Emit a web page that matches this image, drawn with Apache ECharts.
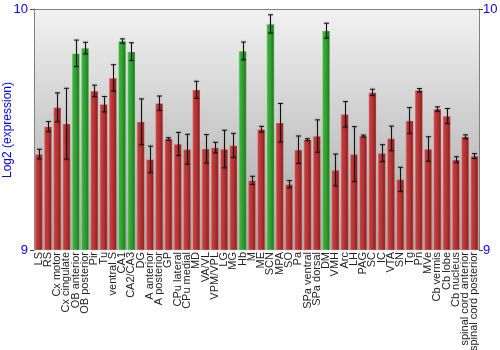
<!DOCTYPE html>
<html>
<head>
<meta charset="utf-8">
<script src="https://cdn.jsdelivr.net/npm/echarts@6/dist/echarts.min.js"></script>
<style>
  html, body { margin: 0; padding: 0; background: #fff; }
  #chart { width: 500px; height: 350px; }
</style>
</head>
<body>
<div id="chart"></div>
<script>
// Brain regions along the x axis
const regions = [
  'LS', 'RS', 'Cx motor', 'Cx cingulate', 'OB anterior', 'OB posterior', 'Pir', 'Tu',
  'ventral S', 'CA1', 'CA2/CA3', 'DG', 'A anterior', 'A posterior', 'GP', 'CPu lateral',
  'CPu medial', 'MD', 'VA/VL', 'VPM/VPL', 'LG', 'MG', 'Hb', 'M',
  'ME', 'SCN', 'MPA', 'SO', 'Pa', 'SPa ventral', 'SPa dorsal', 'DM',
  'VMH', 'Arc', 'LH', 'PAG', 'SC', 'IC', 'VTA', 'SN',
  'Tg', 'Pn', 'MVe', 'Cb vermis', 'Cb lobe', 'Cb nucleus', 'spinal cord anterior', 'spinal cord posterior'
];

// Mean log2 expression per region
const expression = [
  9.398, 9.512, 9.592, 9.524, 9.816, 9.838, 9.660, 9.605,
  9.714, 9.867, 9.823, 9.532, 9.376, 9.609, 9.461, 9.440,
  9.418, 9.665, 9.420, 9.425, 9.419, 9.434, 9.826, 9.289,
  9.501, 9.938, 9.528, 9.273, 9.416, 9.458, 9.473, 9.910,
  9.332, 9.563, 9.398, 9.473, 9.654, 9.402, 9.463, 9.293,
  9.537, 9.663, 9.419, 9.585, 9.556, 9.375, 9.470, 9.390
];

// Half-length of the error bar for each region
const errorSize = [
  0.020, 0.021, 0.060, 0.147, 0.055, 0.024, 0.024, 0.032,
  0.055, 0.009, 0.037, 0.095, 0.055, 0.030, 0.005, 0.048,
  0.062, 0.035, 0.059, 0.022, 0.078, 0.050, 0.037, 0.017,
  0.012, 0.038, 0.080, 0.015, 0.057, 0.004, 0.067, 0.031,
  0.066, 0.053, 0.114, 0.004, 0.013, 0.035, 0.051, 0.050,
  0.054, 0.007, 0.051, 0.009, 0.031, 0.012, 0.008, 0.010
];

// Regions drawn in green
const enriched = ['OB anterior', 'OB posterior', 'CA1', 'CA2/CA3', 'Hb', 'SCN', 'DM'];

// Value axis tick labels
const yTicks = [9, 10];
const yTitle = 'Log2 (expression)';

const G = echarts.graphic.LinearGradient;
const redFill = new G(0, 0, 1, 0, [
  { offset: 0, color: '#d87070' },
  { offset: 0.18, color: '#c44040' },
  { offset: 0.55, color: '#b03232' },
  { offset: 1, color: '#861c1c' }
]);
const greenFill = new G(0, 0, 1, 0, [
  { offset: 0, color: '#70cc70' },
  { offset: 0.18, color: '#3fb03f' },
  { offset: 0.55, color: '#2f9a2f' },
  { offset: 1, color: '#1c761c' }
]);

const barData = expression.map((v, i) => ({
  value: v,
  itemStyle: {
    color: enriched.includes(regions[i]) ? greenFill : redFill,
    borderColor: enriched.includes(regions[i]) ? 'rgba(190,235,190,0.6)' : 'rgba(235,180,180,0.6)',
    borderWidth: 0.6
  }
}));

const errData = expression.map((v, i) => [i, v - errorSize[i], v + errorSize[i]]);

const axisLabelStyle = { color: '#0000ff', fontSize: 13, fontFamily: 'Liberation Sans' };

const chart = echarts.init(document.getElementById('chart'), null, { renderer: 'canvas' });
chart.setOption({
  animation: false,
  backgroundColor: '#ffffff',
  textStyle: { fontFamily: 'Liberation Sans' },
  grid: {
    left: 34, right: 21, top: 9, bottom: 100,
    outerBoundsMode: 'none',
    containLabel: false,
    show: true,
    borderWidth: 0,
    backgroundColor: new G(0, 0, 0, 1, [
      { offset: 0, color: '#f2f2f2' },
      { offset: 1, color: '#a4a4a4' }
    ])
  },
  // Rotated value-axis title at the left edge
  graphic: [{
    type: 'text',
    x: 8, y: 130,
    rotation: Math.PI / 2,
    style: {
      text: yTitle,
      fill: '#0000ff',
      font: '12px "Liberation Sans"',
      align: 'center',
      verticalAlign: 'middle'
    }
  }],
  xAxis: [
    {
      type: 'category',
      data: regions,
      position: 'bottom',
      axisLine: { show: false },
      axisTick: { show: false },
      axisLabel: {
        interval: 0, rotate: 90, fontSize: 11, color: '#222',
        fontFamily: 'Liberation Sans', margin: 2
      }
    },
    {
      type: 'category',
      data: regions,
      position: 'top',
      axisLine: { show: true, lineStyle: { color: '#808080', width: 1 } },
      axisTick: { show: false },
      axisLabel: { show: false }
    }
  ],
  yAxis: [
    {
      type: 'value',
      min: yTicks[0], max: yTicks[yTicks.length - 1], interval: 1,
      position: 'left',
      axisLine: { show: true, lineStyle: { color: '#808080' } },
      axisTick: { show: true, length: 4, lineStyle: { color: '#404040' } },
      axisLabel: Object.assign({ margin: 6 }, axisLabelStyle),
      splitLine: { show: false }
    },
    {
      type: 'value',
      min: yTicks[0], max: yTicks[yTicks.length - 1], interval: 1,
      position: 'right',
      axisLine: { show: true, lineStyle: { color: '#808080' } },
      axisTick: { show: true, length: 4, lineStyle: { color: '#404040' } },
      axisLabel: Object.assign({ margin: 4 }, axisLabelStyle),
      splitLine: { show: false }
    }
  ],
  series: [
    {
      type: 'bar',
      data: barData,
      barCategoryGap: '14%',
      xAxisIndex: 0,
      yAxisIndex: 0
    },
    {
      type: 'custom',
      xAxisIndex: 0,
      yAxisIndex: 0,
      data: errData,
      z: 5,
      renderItem: function (params, api) {
        const idx = api.value(0);
        const lo = api.coord([idx, api.value(1)]);
        const hi = api.coord([idx, api.value(2)]);
        const x = Math.round(lo[0]) + 0.5;
        const cap = 2.5;
        const style = { stroke: '#111', lineWidth: 1, shadowColor: 'rgba(0,0,0,0.35)', shadowBlur: 2 };
        return {
          type: 'group',
          children: [
            { type: 'line', shape: { x1: x, y1: hi[1], x2: x, y2: lo[1] }, style: style },
            { type: 'line', shape: { x1: x - cap, y1: hi[1], x2: x + cap, y2: hi[1] }, style: style },
            { type: 'line', shape: { x1: x - cap, y1: lo[1], x2: x + cap, y2: lo[1] }, style: style }
          ]
        };
      }
    }
  ]
});
</script>
</body>
</html>
